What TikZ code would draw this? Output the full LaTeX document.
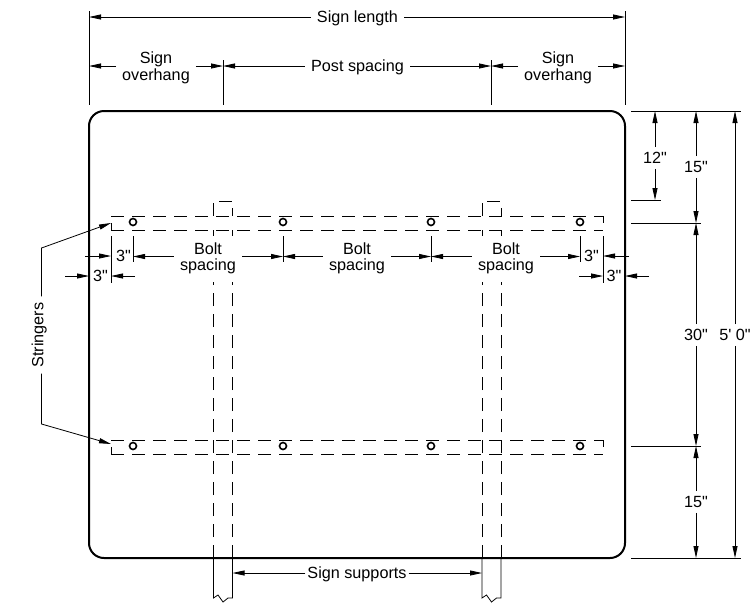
\documentclass[tikz,border=0pt]{standalone}
\usepackage{fontspec}
\setmainfont{Liberation Sans}[Ligatures=TeXOff]
\usetikzlibrary{arrows.meta}
\tikzset{
	dimline/.style={line width=0.8,->},
	extline/.style={line width=0.8},
	hidden/.style={line width=1,dash pattern=on 13 off 8},
	dimtext/.style={inner xsep=6,inner ysep=5,text depth=0,font=\fontsize{16.2}{16.5}\selectfont,align=center},
	bolt/.style={circle,draw,line width=1.6,minimum size=7,inner sep=0}
}
\begin{document}
\begin{tikzpicture}[x=1pt,y=-1pt,>={Stealth[inset=0,length=12,width=5]}]
			\useasboundingbox (0,0) rectangle (752,603);
			% sign panel
			\draw[line width=2,rounded corners=15] (89,111) rectangle (625,558);
			% stringers
			\draw[hidden] (111,216)--(603,216);
			\draw[hidden] (111,230)--(603,230);
			\draw[hidden] (111,440)--(603,440);
			\draw[hidden] (111,454)--(603,454);
			\draw[extline] (111,223)--(111,230);
			\draw[extline] (603,216)--(603,223);
			\draw[extline] (111,447)--(111,454);
			\draw[extline] (603,440)--(603,447);
			% posts behind the sign
			\draw[hidden] (213.5,558)--(213.5,282);
			\draw[hidden] (232.5,558)--(232.5,282);
			\draw[hidden] (482,558)--(482,282);
			\draw[hidden] (501,558)--(501,282);
			\draw[extline] (213.5,203)--(213.5,216);
			\draw[extline] (232.5,208)--(232.5,216);
			\draw[extline] (482,203)--(482,216);
			\draw[extline] (501,208)--(501,216);
			\draw[extline] (213.5,230)--(213.5,236);
			\draw[extline] (232.5,230)--(232.5,236);
			\draw[extline] (482,230)--(482,236);
			\draw[extline] (501,230)--(501,236);
			\draw[extline] (219,201)--(232,201);
			\draw[extline] (487,201)--(500,201);
			% posts below the sign
			\draw[extline] (213.5,558)--(213.5,598)--(218,595)--(223,602)--(228,598)--(232.5,598)--(232.5,558);
			\draw[extline] (482,558)--(482,598)--(486.5,595)--(491.5,602)--(496.5,598)--(501,598)--(501,558);
			% bolts
			\node[bolt] (bolta) at (133,222) {};
			\node[bolt] (boltb) at (283,222) {};
			\node[bolt] (boltc) at (431,222) {};
			\node[bolt] (boltd) at (580,222) {};
			\node[bolt] (bolte) at (133,446) {};
			\node[bolt] (boltf) at (283,446) {};
			\node[bolt] (boltg) at (431,446) {};
			\node[bolt] (bolth) at (580,446) {};
			% extension lines
			\draw[extline] (89,11)--(89,105);
			\draw[extline] (625,11)--(625,105);
			\draw[extline] (223,60)--(223,105);
			\draw[extline] (491,60)--(491,105);
			\draw[extline] (631,111)--(741,111);
			\draw[extline] (631,200)--(661,200);
			\draw[extline] (631,223)--(701,223);
			\draw[extline] (631,446)--(701,446);
			\draw[extline] (631,558)--(741,558);
			\draw[extline] (111,236)--(111,283);
			\draw[extline] (133,236)--(133,262);
			\draw[extline] (283,236)--(283,262);
			\draw[extline] (431,236)--(431,262);
			\draw[extline] (580,236)--(580,262);
			\draw[extline] (603,236)--(603,283);
			% labels
			\node[dimtext] (length) at (357.5,17) {Sign length};
			\node[dimtext] (overl) at (156,66) {Sign\\overhang};
			\node[dimtext] (post) at (357.5,66) {Post spacing};
			\node[dimtext] (overr) at (558,66) {Sign\\overhang};
			\node[dimtext] (twelve) at (655,158) {12"};
			\node[dimtext] (topgap) at (696,167) {15"};
			\node[dimtext] (middle) at (696,335) {30"};
			\node[dimtext] (botgap) at (696,502) {15"};
			\node[dimtext] (total) at (735,335) {5' 0"};
			\node[dimtext] (spacea) at (208,256.5) {Bolt\\spacing};
			\node[dimtext] (spaceb) at (357,256.5) {Bolt\\spacing};
			\node[dimtext] (spacec) at (506,256.5) {Bolt\\spacing};
			\node[dimtext,inner xsep=0] (edgea) at (123.5,256) {3"};
			\node[dimtext,inner xsep=0] (edgeb) at (100.5,276) {3"};
			\node[dimtext,inner xsep=0] (edgec) at (591.5,256) {3"};
			\node[dimtext,inner xsep=0] (edged) at (614,276) {3"};
			\node[dimtext,inner xsep=2] (supports) at (357,573) {Sign supports};
			\node[dimtext,rotate=90] (stringers) at (37.5,335) {Stringers};
			% dimension ends
			\coordinate (lenl) at (89,17);
			\coordinate (lenr) at (625,17);
			\coordinate (rowa) at (89,66);
			\coordinate (rowb) at (223,66);
			\coordinate (rowc) at (491,66);
			\coordinate (rowd) at (625,66);
			\coordinate (riga) at (655,111);
			\coordinate (rigb) at (655,200);
			\coordinate (rigc) at (696,111);
			\coordinate (rigd) at (696,223);
			\coordinate (rige) at (696,446);
			\coordinate (rigf) at (696,558);
			\coordinate (rigg) at (735,111);
			\coordinate (righ) at (735,558);
			\coordinate (boa) at (133,256.5);
			\coordinate (bob) at (283,256.5);
			\coordinate (boc) at (431,256.5);
			\coordinate (bod) at (580,256.5);
			\coordinate (taila) at (85,256);
			\coordinate (heada) at (111,256);
			\coordinate (tailb) at (629,256);
			\coordinate (headb) at (603,256);
			\coordinate (tailc) at (65,276);
			\coordinate (headc) at (89,276);
			\coordinate (taild) at (135,276);
			\coordinate (headd) at (111,276);
			\coordinate (taile) at (579,276);
			\coordinate (heade) at (603,276);
			\coordinate (tailf) at (649,276);
			\coordinate (headf) at (625,276);
			\coordinate (supl) at (232.5,573);
			\coordinate (supr) at (482,573);
			\coordinate (kneea) at (41.5,248);
			\coordinate (kneeb) at (41.5,424);
			\coordinate (stra) at (111,223);
			\coordinate (strb) at (111,444);
			% dimension lines
			\draw[dimline] (length)--(lenl);
			\draw[dimline] (length)--(lenr);
			\draw[dimline] (overl)--(rowa);
			\draw[dimline] (overl)--(rowb);
			\draw[dimline] (post)--(rowb);
			\draw[dimline] (post)--(rowc);
			\draw[dimline] (overr)--(rowc);
			\draw[dimline] (overr)--(rowd);
			\draw[dimline] (twelve)--(riga);
			\draw[dimline] (twelve)--(rigb);
			\draw[dimline] (topgap)--(rigc);
			\draw[dimline] (topgap)--(rigd);
			\draw[dimline] (middle)--(rigd);
			\draw[dimline] (middle)--(rige);
			\draw[dimline] (botgap)--(rige);
			\draw[dimline] (botgap)--(rigf);
			\draw[dimline] (total)--(rigg);
			\draw[dimline] (total)--(righ);
			\draw[dimline] (spacea)--(boa);
			\draw[dimline] (spacea)--(bob);
			\draw[dimline] (spaceb)--(bob);
			\draw[dimline] (spaceb)--(boc);
			\draw[dimline] (spacec)--(boc);
			\draw[dimline] (spacec)--(bod);
			\draw[dimline] (taila)--(heada);
			\draw[dimline] (tailb)--(headb);
			\draw[dimline] (tailc)--(headc);
			\draw[dimline] (taild)--(headd);
			\draw[dimline] (taile)--(heade);
			\draw[dimline] (tailf)--(headf);
			\draw[dimline] (supports)--(supl);
			\draw[dimline] (supports)--(supr);
			\draw[dimline] (stringers.east -| kneea)--(kneea)--(stra);
			\draw[dimline] (stringers.west -| kneeb)--(kneeb)--(strb);
		\end{tikzpicture}
\end{document}
